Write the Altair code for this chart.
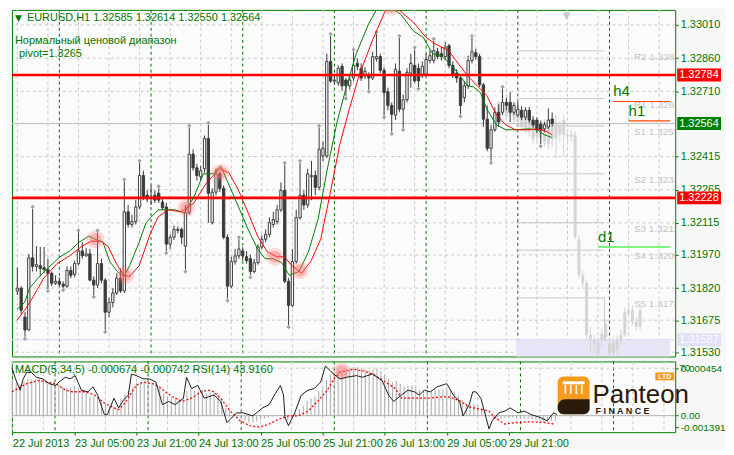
import altair as alt
import pandas as pd

FONT = "Liberation Sans"
GREEN = "#007800"
DARK = "#3a3a3a"
W, H1, H2 = 666, 348, 71

# ---------------- price data (EURUSD H1) ----------------
opens = [
1.31807, 1.31820, 1.31689, 1.31631, 1.31957, 1.31918, 1.31922, 1.31913, 1.31904, 1.31887,
1.31842, 1.31851, 1.31838, 1.31829, 1.31900, 1.31882, 1.31931, 1.31988, 1.31966, 1.31975,
1.31856, 1.31834, 1.31931, 1.31856, 1.31711, 1.31755, 1.31798, 1.31865, 1.31807, 1.32165,
1.32108, 1.32121, 1.32187, 1.32329, 1.32240, 1.32227, 1.32240, 1.32249, 1.32209, 1.32187,
1.32019, 1.32050, 1.32081, 1.32086, 1.32010, 1.32161, 1.32426, 1.32364, 1.32324, 1.32360,
1.32497, 1.32116, 1.32254, 1.32337, 1.32271, 1.32050, 1.31829, 1.31940, 1.31966, 1.31988,
1.31962, 1.31953, 1.31895, 1.31935, 1.32006, 1.32041, 1.32063, 1.32108, 1.32121, 1.32174,
1.32262, 1.31851, 1.31742, 1.31940, 1.32139, 1.32240, 1.32196, 1.32324, 1.32329, 1.32276,
1.32417, 1.32417, 1.32845, 1.32756, 1.32748, 1.32823, 1.32761, 1.32735, 1.32770, 1.32836,
1.32814, 1.32779, 1.32783, 1.32770, 1.32858, 1.32867, 1.32805, 1.32708, 1.32646, 1.32602,
1.32801, 1.32629, 1.32672, 1.32792, 1.32827, 1.32814, 1.32783, 1.32788, 1.32849, 1.32849,
1.32889, 1.32880, 1.32867, 1.32916, 1.32827, 1.32792, 1.32770, 1.32682, 1.32735, 1.32849,
1.32885, 1.32867, 1.32739, 1.32584, 1.32452, 1.32536, 1.32615, 1.32615, 1.32660, 1.32660,
1.32615, 1.32602, 1.32624, 1.32593, 1.32624, 1.32580, 1.32580, 1.32562, 1.32540, 1.32549,
1.32585]
highs = [
1.31913, 1.31829, 1.31711, 1.31975, 1.32178, 1.32010, 1.32006, 1.32006, 1.31953, 1.31895,
1.31878, 1.31869, 1.31851, 1.31918, 1.31918, 1.31944, 1.32072, 1.32028, 1.32002, 1.31997,
1.31873, 1.32072, 1.31953, 1.31865, 1.31777, 1.31820, 1.31887, 1.31909, 1.32302, 1.32196,
1.32152, 1.32218, 1.32386, 1.32351, 1.32262, 1.32284, 1.32262, 1.32271, 1.32227, 1.32205,
1.32063, 1.32103, 1.32099, 1.32094, 1.32196, 1.32545, 1.32448, 1.32382, 1.32373, 1.32510,
1.32558, 1.32271, 1.32360, 1.32351, 1.32284, 1.32063, 1.31962, 1.31997, 1.32041, 1.32006,
1.31988, 1.31971, 1.31953, 1.32019, 1.32059, 1.32086, 1.32139, 1.32165, 1.32196, 1.32298,
1.32377, 1.31865, 1.31997, 1.32174, 1.32386, 1.32262, 1.32360, 1.32395, 1.32351, 1.32545,
1.32483, 1.32880, 1.32960, 1.32783, 1.32827, 1.32836, 1.32770, 1.32783, 1.32889, 1.32858,
1.32836, 1.32818, 1.32796, 1.32889, 1.32969, 1.32880, 1.32818, 1.32726, 1.32660, 1.32836,
1.32951, 1.32695, 1.32814, 1.32880, 1.32898, 1.32836, 1.32845, 1.32880, 1.32898, 1.32938,
1.32907, 1.32911, 1.32933, 1.32924, 1.32845, 1.32810, 1.32783, 1.32757, 1.32871, 1.32951,
1.32902, 1.32880, 1.32748, 1.32646, 1.32558, 1.32638, 1.32651, 1.32721, 1.32682, 1.32708,
1.32660, 1.32660, 1.32642, 1.32638, 1.32638, 1.32598, 1.32593, 1.32576, 1.32571, 1.32633,
1.32614]
lows = [
1.31789, 1.31702, 1.31600, 1.31627, 1.31895, 1.31895, 1.31873, 1.31887, 1.31816, 1.31829,
1.31834, 1.31829, 1.31820, 1.31820, 1.31865, 1.31869, 1.31922, 1.31953, 1.31962, 1.31851,
1.31789, 1.31820, 1.31842, 1.31631, 1.31689, 1.31733, 1.31789, 1.31798, 1.31798, 1.32094,
1.32094, 1.32108, 1.32178, 1.32218, 1.32209, 1.32196, 1.32205, 1.32205, 1.32174, 1.31988,
1.31997, 1.32037, 1.32068, 1.32019, 1.31904, 1.32152, 1.32351, 1.32307, 1.32307, 1.32342,
1.32116, 1.32108, 1.32240, 1.32254, 1.32041, 1.31773, 1.31820, 1.31926, 1.31953, 1.31944,
1.31931, 1.31878, 1.31887, 1.31926, 1.31997, 1.32028, 1.32050, 1.32094, 1.32108, 1.32165,
1.31842, 1.31653, 1.31733, 1.31931, 1.32130, 1.32174, 1.32183, 1.32218, 1.32240, 1.32262,
1.32395, 1.32408, 1.32748, 1.32739, 1.32735, 1.32712, 1.32686, 1.32717, 1.32757, 1.32805,
1.32757, 1.32765, 1.32717, 1.32761, 1.32845, 1.32792, 1.32602, 1.32624, 1.32527, 1.32580,
1.32615, 1.32545, 1.32660, 1.32726, 1.32748, 1.32730, 1.32770, 1.32779, 1.32836, 1.32836,
1.32854, 1.32849, 1.32854, 1.32814, 1.32770, 1.32748, 1.32606, 1.32660, 1.32721, 1.32836,
1.32854, 1.32730, 1.32549, 1.32439, 1.32395, 1.32527, 1.32549, 1.32602, 1.32624, 1.32571,
1.32602, 1.32593, 1.32580, 1.32580, 1.32567, 1.32545, 1.32522, 1.32470, 1.32527, 1.32540,
1.32550]
closes = [
1.31820, 1.31720, 1.31631, 1.31957, 1.31918, 1.31926, 1.31909, 1.31904, 1.31887, 1.31842,
1.31851, 1.31838, 1.31829, 1.31900, 1.31878, 1.31931, 1.31988, 1.31966, 1.31975, 1.31856,
1.31834, 1.31931, 1.31856, 1.31711, 1.31755, 1.31798, 1.31865, 1.31807, 1.32165, 1.32108,
1.32121, 1.32187, 1.32329, 1.32227, 1.32223, 1.32231, 1.32218, 1.32218, 1.32183, 1.32019,
1.32050, 1.32086, 1.32086, 1.32050, 1.32161, 1.32426, 1.32364, 1.32329, 1.32351, 1.32497,
1.32249, 1.32254, 1.32337, 1.32271, 1.32050, 1.31829, 1.31940, 1.31966, 1.31997, 1.31966,
1.31944, 1.31895, 1.31935, 1.32006, 1.32041, 1.32063, 1.32116, 1.32130, 1.32174, 1.32262,
1.31851, 1.31742, 1.31940, 1.32139, 1.32240, 1.32196, 1.32337, 1.32329, 1.32276, 1.32448,
1.32452, 1.32845, 1.32756, 1.32761, 1.32814, 1.32735, 1.32735, 1.32761, 1.32827, 1.32823,
1.32770, 1.32801, 1.32770, 1.32867, 1.32867, 1.32805, 1.32704, 1.32646, 1.32606, 1.32810,
1.32629, 1.32672, 1.32796, 1.32836, 1.32757, 1.32757, 1.32823, 1.32854, 1.32871, 1.32894,
1.32867, 1.32867, 1.32911, 1.32827, 1.32783, 1.32770, 1.32646, 1.32735, 1.32849, 1.32889,
1.32867, 1.32739, 1.32584, 1.32452, 1.32536, 1.32615, 1.32571, 1.32660, 1.32646, 1.32615,
1.32646, 1.32629, 1.32593, 1.32624, 1.32580, 1.32558, 1.32536, 1.32536, 1.32558, 1.32580,
1.32564]

# grey projected candles (from bar 126 on)
ghost_start = 126
ghost_top = [1.32660, 1.32660, 1.32638, 1.32660, 1.32624, 1.32616, 1.32607, 1.32594, 1.32580, 1.32572,
             1.32572, 1.32563, 1.32567, 1.32572, 1.32558, 1.32572, 1.32558, 1.32580, 1.32514, 1.32514,
             1.32514, 1.32041, 1.31878, 1.31842, 1.31609, 1.31587, 1.31578, 1.31614, 1.31658, 1.31570,
             1.31578, 1.31587, 1.31609, 1.31711, 1.31720, 1.31720, 1.31667, 1.31720]
ghost_bot = [1.32603, 1.32616, 1.32594, 1.32607, 1.32580, 1.32572, 1.32550, 1.32536, 1.32528, 1.32492,
             1.32505, 1.32501, 1.32483, 1.32474, 1.32492, 1.32497, 1.32514, 1.32514, 1.32505, 1.32505,
             1.32050, 1.31878, 1.31842, 1.31609, 1.31587, 1.31570, 1.31525, 1.31587, 1.31600, 1.31525,
             1.31525, 1.31543, 1.31587, 1.31609, 1.31702, 1.31667, 1.31645, 1.31645]
ghost_high = [1.32668, 1.32677, 1.32660, 1.32677, 1.32642, 1.32633, 1.32624, 1.32616, 1.32607, 1.32589,
              1.32585, 1.32580, 1.32585, 1.32589, 1.32580, 1.32603, 1.32576, 1.32603, 1.32536, 1.32536,
              1.32528, 1.32059, 1.31900, 1.31856, 1.31645, 1.31609, 1.31600, 1.31636, 1.31680, 1.31592,
              1.31600, 1.31609, 1.31631, 1.31733, 1.31742, 1.31742, 1.31689, 1.31737]
ghost_low = [1.32572, 1.32603, 1.32580, 1.32589, 1.32563, 1.32554, 1.32528, 1.32519, 1.32505, 1.32474,
             1.32483, 1.32483, 1.32461, 1.32448, 1.32461, 1.32408, 1.32483, 1.32413, 1.32483, 1.32483,
             1.32041, 1.31865, 1.31820, 1.31592, 1.31534, 1.31530, 1.31512, 1.31556, 1.31578, 1.31512,
             1.31512, 1.31521, 1.31565, 1.31600, 1.31689, 1.31653, 1.31631, 1.31631]

# moving-average lines: (bar position, price)
green_ma = [(-0.1, 1.31724), (1.9, 1.31755), (3.2, 1.31820), (5.4, 1.31865), (7.9, 1.31909), (11.2, 1.31962),
            (13.7, 1.31988), (16.2, 1.32028), (18.7, 1.32055), (20.4, 1.32041), (22.4, 1.32028), (24.2, 1.31940),
            (26.2, 1.31895), (27.9, 1.31873), (29.4, 1.31922), (31.9, 1.32028), (33.7, 1.32116), (34.9, 1.32139),
            (36.9, 1.32174), (41.2, 1.32174), (43.7, 1.32161), (46.2, 1.32231), (48.7, 1.32337), (51.2, 1.32337),
            (53.2, 1.32373), (54.9, 1.32307), (57.9, 1.32187), (60.4, 1.32086), (62.9, 1.31997), (64.9, 1.31953),
            (66.9, 1.31953), (69.2, 1.31935), (71.2, 1.31878), (73.7, 1.31895), (76.2, 1.31984), (78.7, 1.32130),
            (81.2, 1.32364), (83.7, 1.32572), (86.2, 1.32735), (88.7, 1.32880), (91.9, 1.33013), (94.4, 1.33092),
            (96.9, 1.33101), (100.4, 1.33057), (103.7, 1.32982), (106.2, 1.32955), (108.7, 1.32880), (111.2, 1.32867),
            (113.7, 1.32827), (115.7, 1.32783), (117.9, 1.32735), (119.4, 1.32730), (121.2, 1.32704), (122.9, 1.32629),
            (125.4, 1.32558), (127.9, 1.32536), (130.4, 1.32536), (133.7, 1.32540), (136.2, 1.32536), (137.9, 1.32514),
            (139.9, 1.32501)]
red_ma = [(-0.1, 1.31675), (1.9, 1.31720), (3.7, 1.31768), (6.9, 1.31865), (10.4, 1.31931), (13.7, 1.31966),
          (16.9, 1.32010), (19.4, 1.32032), (21.9, 1.32032), (23.7, 1.32010), (26.2, 1.31922), (27.9, 1.31878),
          (29.4, 1.31873), (31.9, 1.31922), (34.9, 1.32072), (36.9, 1.32143), (39.4, 1.32174), (42.9, 1.32165),
          (46.2, 1.32205), (49.4, 1.32293), (52.9, 1.32360), (55.4, 1.32342), (57.9, 1.32262), (60.4, 1.32161),
          (62.9, 1.32055), (65.4, 1.31984), (67.9, 1.31962), (69.9, 1.31962), (71.9, 1.31922), (74.4, 1.31887),
          (76.9, 1.31944), (79.4, 1.32041), (81.9, 1.32249), (84.4, 1.32470), (86.9, 1.32629), (89.4, 1.32779),
          (92.9, 1.32938), (96.2, 1.33070), (97.9, 1.33101), (100.4, 1.33070), (103.7, 1.33021), (106.9, 1.32955),
          (109.4, 1.32924), (112.9, 1.32894), (115.4, 1.32836), (117.9, 1.32779), (120.4, 1.32735), (122.9, 1.32690),
          (125.4, 1.32603), (127.9, 1.32558), (130.4, 1.32536), (133.7, 1.32536), (136.2, 1.32540), (138.7, 1.32527),
          (139.9, 1.32514)]
cross_pts = [(20.4, 1.32041), (28.2, 1.31878), (44.2, 1.32183), (53.2, 1.32342), (67.4, 1.31962),
             (73.9, 1.31900), (97.9, 1.33092)]

fractal_up_idx = [4, 16, 21, 28, 32, 37, 45, 50, 58, 70, 74, 79, 82, 88, 94, 100, 104, 109, 119, 127]
fractal_dn_idx = [2, 8, 12, 20, 23, 39, 44, 55, 61, 71, 86, 92, 96, 98, 101, 105, 116, 124, 137]

# levels
price_ticks = [1.33010, 1.32860, 1.32710, 1.32565, 1.32415, 1.32265, 1.32115, 1.31970, 1.31820, 1.31675, 1.31530]
price_label_ticks = [1.33010, 1.32860, 1.32710, 1.32415, 1.32265, 1.32115, 1.31970, 1.31820, 1.31675, 1.31530]
red_levels = [1.32784, 1.32228]
bid_level = 1.32564
lavender_level = 1.31587
pivot_levels = [1.32893, 1.32677, 1.32553, 1.32337, 1.32116, 1.31992, 1.31776]
pivot_texts = ["R2 1.3289", "R1 1.3268", "S1 1.3255", "S2 1.3234", "S3 1.3211", "S4 1.3200", "S5 1.3178"]
pivot_from, pivot_to, pivot_text_at = 130.5, 153.7, 161.4
tf_names = ["h4", "h1", "d1"]
tf_levels = [1.32664, 1.32576, 1.32006]
tf_start = [156.0, 160.0, 152.0]
tf_colors = ["#ff4500", "#ff4500", "#00ee00"]
box_levels = [1.32784, 1.32564, 1.32228, 1.31587]
box_texts = ["1.32784", "1.32564", "1.32228", "1.31587"]
box_colors = ["#ff0000", "#008000", "#ff0000", "#e0e0f6"]

x_min, x_max = -0.1, 170.9
y_min, y_max = 1.31511, 1.33078
grid_idx = list(range(0, 169, 8))
day_sep_idx = [11, 35, 59, 83, 107, 131, 155]
time_label_idx = [0, 16, 32, 48, 64, 80, 96, 112, 128]
time_labels = ["22 Jul 2013", "23 Jul 05:00", "23 Jul 21:00", "24 Jul 13:00", "25 Jul 05:00",
               "25 Jul 21:00", "26 Jul 13:00", "29 Jul 05:00", "29 Jul 21:00"]

# ---------------- indicator data ----------------
macd_hist = [
0.000334, 0.000315, 0.000297, 0.000324, 0.000352, 0.000352, 0.000352, 0.000343, 0.000334, 0.000324,
0.000315, 0.000306, 0.000287, 0.000278, 0.000269, 0.000269, 0.000278, 0.000269, 0.000250, 0.000213,
0.000185, 0.000185, 0.000167, 0.000130, 0.000111, 0.000093, 0.000083, 0.000074, 0.000167, 0.000213,
0.000241, 0.000269, 0.000315, 0.000324, 0.000334, 0.000334, 0.000315, 0.000297, 0.000269, 0.000213,
0.000185, 0.000176, 0.000167, 0.000158, 0.000176, 0.000241, 0.000250, 0.000241, 0.000232, 0.000250,
0.000213, 0.000222, 0.000232, 0.000213, 0.000167, 0.000074, 0.000037, 0.000009, -0.000009, -0.000028,
-0.000046, -0.000065, -0.000065, -0.000056, -0.000037, -0.000028, -0.000019, -0.000009, 0.0, 0.000009,
-0.000028, -0.000046, -0.000019, 0.000019, 0.000065, 0.000093, 0.000139, 0.000167, 0.000185, 0.000232,
0.000260, 0.000343, 0.000389, 0.000417, 0.000436, 0.000445, 0.000445, 0.000454, 0.000464, 0.000464,
0.000454, 0.000445, 0.000436, 0.000445, 0.000454, 0.000426, 0.000389, 0.000352, 0.000315, 0.000334,
0.000306, 0.000278, 0.000287, 0.000287, 0.000269, 0.000250, 0.000241, 0.000241, 0.000241, 0.000250,
0.000250, 0.000250, 0.000260, 0.000250, 0.000222, 0.000195, 0.000148, 0.000121, 0.000111, 0.000111,
0.000102, 0.000074, 0.000037, -0.000009, -0.000037, -0.000037, -0.000028, -0.000019, -0.000019, -0.000019,
-0.000028, -0.000028, -0.000028, -0.000028, -0.000037, -0.000046, -0.000046, -0.000056, -0.000056, -0.000046,
-0.000046]
signal_pts = [(-0.1, 0.000229), (3.7, 0.000306), (6.9, 0.000337), (11.2, 0.000306), (13.7, 0.000244),
              (15.4, 0.000229), (18.7, 0.000229), (21.2, 0.000198), (23.7, 0.000121), (26.2, 0.000074),
              (27.4, 0.000058), (28.7, 0.000105), (30.4, 0.000198), (31.9, 0.000290), (33.7, 0.000321),
              (36.2, 0.000306), (37.9, 0.000275), (39.4, 0.000229), (41.2, 0.000183), (43.7, 0.000136),
              (46.2, 0.000167), (48.7, 0.000229), (50.4, 0.000244), (51.9, 0.000229), (53.7, 0.000167),
              (56.2, 0.000043), (58.7, -0.000049), (61.2, -0.000096), (63.7, -0.000111), (66.2, -0.000080),
              (68.7, -0.000034), (71.2, -0.000003), (73.7, -0.000003), (76.2, 0.000043), (78.7, 0.000136),
              (81.2, 0.000244), (82.9, 0.000352), (84.4, 0.000414), (87.9, 0.000445), (90.4, 0.000429),
              (92.9, 0.000399), (96.2, 0.000321), (98.7, 0.000260), (100.4, 0.000167), (103.7, 0.000167),
              (106.9, 0.000167), (112.0, 0.000183), (113.7, 0.000167), (115.4, 0.000142), (117.9, 0.000081),
              (121.2, 0.000058), (122.9, 0.000043), (124.4, -0.000019), (126.9, -0.000080), (130.4, -0.000065),
              (133.7, -0.000059), (137.0, -0.000065), (139.5, -0.000080)]
rsi_pts = [(-0.1, 69.8), (0.8, 63.5), (2.0, 57.1), (2.8, 63.5), (3.7, 67.1), (4.9, 67.1), (6.2, 64.4), (7.8, 63.5),
           (9.5, 60.8), (11.2, 59.8), (12.0, 61.7), (13.7, 64.4), (14.9, 63.5), (16.2, 65.3), (17.8, 57.1),
           (19.5, 56.2), (20.8, 59.0), (22.0, 54.4), (23.7, 43.5), (24.5, 43.5), (26.2, 52.6), (27.4, 47.2),
           (28.7, 51.7), (29.9, 54.4), (30.7, 66.2), (32.0, 65.3), (33.7, 63.5), (35.3, 63.5), (37.0, 61.7),
           (38.7, 49.0), (40.3, 50.8), (42.0, 49.0), (44.1, 52.6), (44.9, 64.4), (46.2, 58.0), (47.8, 59.8),
           (49.5, 52.6), (52.0, 54.4), (53.7, 50.8), (55.3, 39.0), (56.2, 40.8), (57.8, 44.4), (59.5, 44.4),
           (62.0, 42.7), (64.5, 47.2), (66.2, 49.0), (67.8, 55.3), (69.1, 59.8), (69.9, 54.4), (70.3, 41.7),
           (71.2, 37.2), (72.0, 40.8), (72.8, 44.4), (74.5, 54.4), (76.2, 57.1), (77.8, 58.0), (79.5, 61.7),
           (80.7, 70.7), (82.0, 68.0), (82.8, 66.2), (84.5, 63.5), (86.2, 64.4), (88.7, 65.3), (90.3, 64.4),
           (92.8, 66.2), (95.3, 62.6), (97.0, 54.4), (98.3, 50.8), (100.3, 54.4), (102.0, 57.1), (103.7, 56.2),
           (104.9, 54.4), (106.2, 57.1), (107.8, 56.2), (109.5, 59.0), (112.0, 60.8), (113.7, 54.4), (115.3, 50.8),
           (116.2, 42.7), (117.8, 49.0), (118.7, 56.2), (119.5, 56.2), (120.8, 52.6), (122.0, 42.7), (122.9, 35.4),
           (123.7, 39.9), (125.4, 44.4), (127.0, 45.4), (128.3, 47.2), (130.4, 44.4), (132.0, 45.4), (133.7, 43.5),
           (136.2, 41.7), (137.9, 39.9), (139.5, 44.4), (140.4, 43.5)]
low_cross_pts = [(84.9, 0.000426)]
macd_top_level = 0.000454
low_axis_vals = [0.000454, 0.0, -0.000111]
low_axis_texts = ["0.000454", "0.00", "-0.001391"]
macd_dom = [-0.000158, 0.000519]
rsi_dom = [33.57, 73.26]

# ---------------- frames ----------------
n = min(len(opens), len(highs), len(lows), len(closes))
candles = pd.DataFrame({"i": list(range(n)), "o": opens[:n], "h": highs[:n], "l": lows[:n], "c": closes[:n]})
candles["kind"] = ["up" if c >= o else "down" for o, c in zip(candles.o, candles.c)]
gn = min(len(ghost_top), len(ghost_bot), len(ghost_high), len(ghost_low))
ghost = pd.DataFrame({"i": [ghost_start + k for k in range(gn)], "t": ghost_top[:gn], "b": ghost_bot[:gn],
                      "h": ghost_high[:gn], "l": ghost_low[:gn]})
gma = pd.DataFrame(green_ma, columns=["i", "v"])
rma = pd.DataFrame(red_ma, columns=["i", "v"])
crosses = pd.DataFrame(cross_pts, columns=["i", "v"])
fup = candles.loc[[k for k in fractal_up_idx if k < n], ["i", "h"]]
fdn = candles.loc[[k for k in fractal_dn_idx if k < n], ["i", "l"]]
grid_df = pd.DataFrame({"g": grid_idx})
sep_df = pd.DataFrame({"g": day_sep_idx})
ptick_df = pd.DataFrame({"p": price_ticks})
red_df = pd.DataFrame({"p": red_levels})
bid_df = pd.DataFrame({"p": [bid_level]})
lav_df = pd.DataFrame({"p": [lavender_level]})
band_df = pd.DataFrame({"x0": [pivot_from], "x1": [x_max], "p0": [lavender_level], "p1": [y_min]})
piv_df = pd.DataFrame({"p": pivot_levels, "t": pivot_texts, "x0": pivot_from, "x1": pivot_to, "xt": pivot_text_at})
s5_df = pd.DataFrame({"x": [pivot_to], "p0": [pivot_levels[-1]], "p1": [lavender_level]})
tf_df = pd.DataFrame({"name": tf_names, "p": tf_levels, "x0": tf_start, "x1": x_max, "col": tf_colors})
box_df = pd.DataFrame({"p": box_levels, "t": box_texts, "col": box_colors})
one = pd.DataFrame({"a": [0]})

hist_df = pd.DataFrame({"i": list(range(len(macd_hist))), "m": macd_hist, "z": 0.0})
sig_df = pd.DataFrame(signal_pts, columns=["i", "v"])
rsi_df = pd.DataFrame(rsi_pts, columns=["i", "v"])
lcross_df = pd.DataFrame(low_cross_pts, columns=["i", "v"])
ltop_df = pd.DataFrame({"p": [macd_top_level]})
lzero_df = pd.DataFrame({"p": [0.0]})

# ---------------- scales / axes ----------------
xs = alt.Scale(domain=[x_min, x_max], nice=False, zero=False)
ys = alt.Scale(domain=[y_min, y_max], nice=False, zero=False)
ls = alt.Scale(domain=macd_dom, nice=False, zero=False)
rs = alt.Scale(domain=rsi_dom, nice=False, zero=False)

yaxis_main = alt.Axis(orient="right", values=price_label_ticks, format=".5f", labelColor=GREEN, labelFont=FONT,
                      labelFontSize=11, tickColor=GREEN, tickSize=3, domain=False, grid=False, title=None,
                      labelPadding=2)
lab_expr = ("datum.value > 0.0001 ? '%s' : (datum.value < -0.00005 ? '%s' : '%s')"
            % (low_axis_texts[0], low_axis_texts[2], low_axis_texts[1]))
yaxis_low = alt.Axis(orient="right", values=low_axis_vals, labelExpr=lab_expr, labelColor=GREEN, labelFont=FONT,
                     labelFontSize=10, tickColor=GREEN, tickSize=3, domain=False, grid=False, title=None,
                     labelPadding=2)
time_js = "[" + ",".join("'%s'" % t for t in time_labels) + "]"
xaxis_low = alt.Axis(values=time_label_idx, labelExpr=time_js + "[round(datum.value/16)]", labelAlign="left",
                     labelColor=GREEN, labelFont=FONT, labelFontSize=11, tickColor=GREEN, tickSize=3,
                     domain=False, grid=False, title=None, labelPadding=2, labelOverlap=False,
                     labelFlush=False, labelBound=False)


def X(f):
    return alt.X(f, type="quantitative", scale=xs, axis=None)


def Y(f):
    return alt.Y(f, type="quantitative", scale=ys, axis=yaxis_main)


def XL(f):
    return alt.X(f, type="quantitative", scale=xs, axis=xaxis_low)


def YL(f):
    return alt.Y(f, type="quantitative", scale=ls, axis=yaxis_low)


# ---------------- main panel ----------------
vgrid = alt.Chart(grid_df).mark_rule(color="#c8c8c8", strokeDash=[3, 3], strokeWidth=1).encode(x=X("g"))
seps = alt.Chart(sep_df).mark_rule(color="#007000", strokeDash=[3, 3], strokeWidth=1).encode(x=X("g"))
hgrid = alt.Chart(ptick_df).mark_rule(color="#c8c8c8", strokeDash=[3, 3], strokeWidth=1).encode(y=Y("p"))
band = alt.Chart(band_df).mark_rect(color="#e6e6f8").encode(x=X("x0"), x2="x1", y=Y("p0"), y2="p1")
lav_line = alt.Chart(lav_df).mark_rule(color="#d8d8f2", strokeWidth=1).encode(y=Y("p"))
piv_lines = alt.Chart(piv_df).mark_rule(color="#c8c8c8", strokeWidth=1).encode(x=X("x0"), x2="x1", y=Y("p"))
piv_text = alt.Chart(piv_df).mark_text(align="left", baseline="top", dy=1, color="#c4c4c4", font=FONT,
                                        fontSize=10, clip=True).encode(x=X("xt"), y=Y("p"), text="t")
s5_rule = alt.Chart(s5_df).mark_rule(color="#c8c8c8").encode(x=X("x"), y=Y("p0"), y2="p1")
g_wick = alt.Chart(ghost).mark_rule(color="#d4d4d4").encode(x=X("i"), y=Y("l"), y2="h")
g_body = alt.Chart(ghost).mark_bar(size=3, color="#d4d4d4").encode(x=X("i"), y=Y("t"), y2="b")
bid = alt.Chart(bid_df).mark_rule(color="#c0c0c0", strokeWidth=1).encode(y=Y("p"))
wick = alt.Chart(candles).mark_rule(color=DARK, strokeWidth=1).encode(x=X("i"), y=Y("l"), y2="h")
body = alt.Chart(candles).mark_bar(size=2.3, stroke=DARK, strokeWidth=1).encode(
    x=X("i"), y=Y("o"), y2="c",
    fill=alt.Fill("kind:N", scale=alt.Scale(domain=["up", "down"], range=["#ffffff", DARK]), legend=None))
fr_up = alt.Chart(fup).mark_point(shape="diamond", filled=True, size=18, color="#a0a0a0", yOffset=-2,
                                  opacity=1).encode(x=X("i"), y=Y("h"))
fr_dn = alt.Chart(fdn).mark_point(shape="diamond", filled=True, size=18, color="#a0a0a0", yOffset=2,
                                  opacity=1).encode(x=X("i"), y=Y("l"))
reds = alt.Chart(red_df).mark_rule(color="#ff0000", strokeWidth=2.6).encode(y=Y("p"))
gline = alt.Chart(gma).mark_line(color="#008000", strokeWidth=1, clip=True).encode(x=X("i"), y=Y("v"))
rline = alt.Chart(rma).mark_line(color="#ff0000", strokeWidth=1, clip=True).encode(x=X("i"), y=Y("v"))
glow1 = alt.Chart(crosses).mark_circle(size=330, color="#ff6b6b", opacity=0.22, clip=True).encode(
    x=X("i"), y=Y("v"))
glow2 = alt.Chart(crosses).mark_circle(size=150, color="#ff6b6b", opacity=0.38, clip=True).encode(
    x=X("i"), y=Y("v"))
tf_lines = alt.Chart(tf_df).mark_rule(strokeWidth=1.2).encode(
    x=X("x0"), x2="x1", y=Y("p"), color=alt.Color("col:N", scale=None))
tf_text = alt.Chart(tf_df).mark_text(align="left", baseline="bottom", dy=-2, color="#008000", font=FONT,
                                     fontSize=15).encode(x=X("x0"), y=Y("p"), text="name")
boxes = alt.Chart(box_df).mark_tick(orient="horizontal", size=44, thickness=13, opacity=1).encode(
    x=alt.value(W + 24), y=Y("p"), color=alt.Color("col:N", scale=None))
box_txt = alt.Chart(box_df).mark_text(align="left", baseline="middle", color="#ffffff", font=FONT,
                                      fontSize=11).encode(x=alt.value(W + 4), y=Y("p"), text="t")
tri = alt.Chart(one).mark_text(text="▼", font="DejaVu Sans", fontSize=9, color="#007800", align="left",
                               baseline="middle").encode(x=alt.value(3), y=alt.value(8))
head = alt.Chart(one).mark_text(text="EURUSD,H1  1.32585 1.32614 1.32550 1.32564", font=FONT, fontSize=11,
                                color=GREEN, align="left", baseline="middle").encode(x=alt.value(15),
                                                                                    y=alt.value(8))
normal = alt.Chart(one).mark_text(text="Нормальный ценовой диапазон", font=FONT, fontSize=11, color=GREEN,
                                  align="left", baseline="middle").encode(x=alt.value(3), y=alt.value(31))
pivot = alt.Chart(one).mark_text(text="pivot=1.3265", font=FONT, fontSize=11, color=GREEN,
                                 align="left", baseline="middle").encode(x=alt.value(7), y=alt.value(44))
shift_mark = alt.Chart(one).mark_text(text="▼", font="DejaVu Sans", fontSize=10, color="#c8c8c8",
                                      baseline="top").encode(x=alt.value(557), y=alt.value(1))

main = alt.layer(vgrid, seps, hgrid, band, lav_line, piv_lines, s5_rule, piv_text, g_wick, g_body, bid,
                 wick, body, fr_up, fr_dn, reds, gline, rline, glow1, glow2, tf_lines, tf_text,
                 boxes, box_txt, tri, head, normal, pivot, shift_mark).properties(width=W, height=H1)

# ---------------- indicator panel ----------------
l_vgrid = alt.Chart(grid_df).mark_rule(color="#c8c8c8", strokeDash=[3, 3]).encode(x=XL("g"))
l_seps = alt.Chart(sep_df).mark_rule(color="#007000", strokeDash=[3, 3]).encode(x=XL("g"))
l_top = alt.Chart(ltop_df).mark_rule(color="#c8c8c8", strokeDash=[3, 3]).encode(y=YL("p"))
l_zero = alt.Chart(lzero_df).mark_rule(color="#b0b0b0").encode(y=YL("p"))
hist = alt.Chart(hist_df).mark_rule(color="#ababab", strokeWidth=1).encode(x=XL("i"), y=YL("m"), y2="z")
sig = alt.Chart(sig_df).mark_line(color="#ff0000", strokeDash=[2, 2], strokeWidth=1.3).encode(
    x=XL("i"), y=YL("v"))
lglow1 = alt.Chart(lcross_df).mark_circle(size=330, color="#ff6b6b", opacity=0.22).encode(x=XL("i"), y=YL("v"))
lglow2 = alt.Chart(lcross_df).mark_circle(size=150, color="#ff6b6b", opacity=0.38).encode(x=XL("i"), y=YL("v"))
l_head = alt.Chart(one).mark_text(text="MACD(5,34,5) -0.000674 -0.000742  RSI(14) 43.9160", font=FONT,
                                  fontSize=11, color=GREEN, align="left", baseline="middle").encode(
    x=alt.value(3), y=alt.value(9))
l_70 = alt.Chart(one).mark_text(text="70", font=FONT, fontSize=10, color=GREEN, align="left",
                                baseline="middle").encode(x=alt.value(W + 4), y=alt.value(7))
# logo
logo_sq = alt.Chart(one).mark_rect(color="#f39a1f", cornerRadius=6).encode(
    x=alt.value(548), x2=alt.value(580), y=alt.value(15), y2=alt.value(53))
logo_dark = alt.Chart(one).mark_rect(color="#2a1a0b", cornerRadiusBottomLeft=6,
                                     cornerRadiusBottomRight=6, cornerRadiusTopLeft=10).encode(
    x=alt.value(548), x2=alt.value(580), y=alt.value(38), y2=alt.value(53))
logo_roof = alt.Chart(one).mark_rect(color="#ffffff").encode(
    x=alt.value(553), x2=alt.value(575), y=alt.value(20), y2=alt.value(23))
logo_cols = alt.Chart(one).mark_text(text="| | | |", font=FONT, fontSize=10, fontWeight="bold",
                                     color="#ffffff", align="center", baseline="top").encode(
    x=alt.value(564), y=alt.value(23))
logo_ltd_box = alt.Chart(one).mark_rect(color="#f39a1f").encode(
    x=alt.value(646), x2=alt.value(665), y=alt.value(11), y2=alt.value(19))
logo_ltd = alt.Chart(one).mark_text(text="LTD", font=FONT, fontSize=7, fontWeight="bold", color="#ffffff",
                                    align="center", baseline="middle").encode(x=alt.value(655.5),
                                                                              y=alt.value(15.5))
logo_name = alt.Chart(one).mark_text(text="Panteon", font=FONT, fontSize=26, color="#2a1a0b",
                                     align="left", baseline="alphabetic").encode(x=alt.value(583),
                                                                                 y=alt.value(42))
logo_fin = alt.Chart(one).mark_text(text="F  I  N  A  N  C  E", font=FONT, fontSize=9, fontWeight="bold",
                                    color="#2a1a0b", align="left", baseline="alphabetic").encode(
    x=alt.value(586), y=alt.value(53))

macd_group = alt.layer(l_vgrid, l_seps, l_top, l_zero, hist, sig, lglow1, lglow2, l_head, l_70,
                       logo_sq, logo_dark, logo_roof, logo_cols, logo_ltd_box, logo_ltd, logo_name, logo_fin)
rsi_line = alt.Chart(rsi_df).mark_line(color="#1e1e1e", strokeWidth=1).encode(
    x=XL("i"), y=alt.Y("v:Q", scale=rs, axis=None))
lower = alt.layer(macd_group, rsi_line).resolve_scale(y="independent").properties(width=W, height=H2)

chart = alt.vconcat(main, lower, spacing=2).properties(padding=0, background="#f7f7f7").configure_view(
    stroke="#008000", strokeWidth=1, fill="#fbfbfb")

chart.save("out.html", embed_options={"renderer": "svg", "actions": False})
